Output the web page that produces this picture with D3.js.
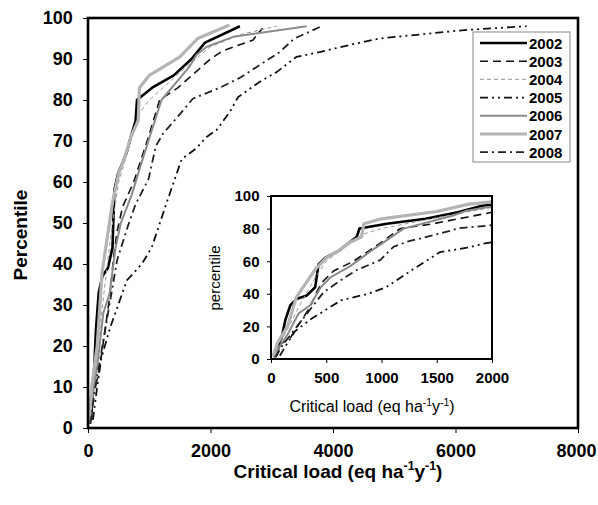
<!DOCTYPE html>
<html>
<head>
<meta charset="utf-8">
<script src="https://cdn.jsdelivr.net/npm/d3@7"></script>
<style>
    body { margin: 0; background: #fff; }
    svg text { font-family: "Liberation Sans", Arial, sans-serif; }
</style>
</head>
<body>
<div id="chart"></div>
<script>
    // critical load (eq/ha/y) vs percentile, one array of [load, percentile] per year
    const years = ["2002", "2003", "2004", "2005", "2006", "2007", "2008"];

    const s2002 = [[50, 2], [80, 10], [100, 14], [130, 24], [175, 33], [235, 37], [325, 39], [400, 44],
        [430, 58], [490, 62], [627, 67], [700, 71], [777, 75], [800, 80], [880, 81], [1048, 83],
        [1400, 86], [1690, 90], [1910, 94], [2480, 98]];
    const s2003 = [[30, 1], [60, 5], [84, 9], [175, 13], [260, 22], [355, 32], [420, 42], [476, 48],
        [566, 54], [747, 60], [900, 67], [988, 71], [1169, 80], [1470, 83], [1771, 87], [2000, 90],
        [2200, 92], [2690, 94.6], [2850, 97.5]];
    const s2004 = [[40, 2], [100, 12], [200, 25], [300, 38], [400, 50], [500, 60], [600, 65], [700, 70],
        [850, 77], [1000, 80], [1300, 84], [1600, 88], [2000, 93], [2500, 96], [3080, 98]];
    const s2005 = [[80, 2], [150, 10], [217, 17], [362, 24.5], [516, 31], [634, 36], [878, 40], [1040, 44],
        [1285, 55], [1530, 65.6], [1775, 68.3], [1937, 71], [2100, 72.7], [2310, 77], [2450, 80.7],
        [2800, 84.4], [3080, 86.8], [3400, 90.5], [3780, 91.7], [4350, 93.7], [4760, 95], [6100, 97],
        [7160, 98]];
    const s2006 = [[20, 1], [80, 8], [150, 15], [250, 28], [355, 33], [450, 44], [536, 50], [717, 57],
        [900, 66], [1200, 80], [1650, 88], [1770, 91], [1940, 93], [2370, 95.4], [3570, 98]];
    const s2007 = [[20, 2], [60, 10], [150, 20], [230, 38], [300, 45], [400, 55], [500, 62], [600, 66],
        [700, 71], [820, 75], [840, 83], [1000, 86], [1500, 90.5], [1790, 95], [2310, 98.3]];
    const s2008 = [[40, 1], [100, 8], [235, 20], [476, 41], [657, 49.5], [777, 54.6], [988, 60.7],
        [1108, 68.8], [1229, 71.9], [1470, 76], [1710, 80.3], [2150, 83], [2480, 85.4], [2800, 88.5],
        [3130, 91.7], [3370, 95], [3815, 98]];

    const mainXTicks = [0, 2000, 4000, 6000, 8000];
    const mainYTicks = d3.range(0, 101, 10);
    const insetXTicks = [0, 500, 1000, 1500, 2000];
    const insetYTicks = [0, 20, 40, 60, 80, 100];

    const seriesData = [s2002, s2003, s2004, s2005, s2006, s2007, s2008];

    // line look per year
    const styles = [
        { color: "#000", width: 2.6, dash: null },
        { color: "#111", width: 1.6, dash: "8,5" },
        { color: "#9a9a9a", width: 1, dash: "4,3" },
        { color: "#111", width: 1.8, dash: "8,4,2,4,2,4" },
        { color: "#8a8a8a", width: 2, dash: null },
        { color: "#b4b4b4", width: 3.2, dash: null },
        { color: "#222", width: 1.8, dash: "8,4,2,4" }
    ];

    const width = 598;
    const height = 505;
    const main = { left: 88, right: 578, top: 18, bottom: 428 };
    const inset = { left: 271, right: 492, top: 196, bottom: 359 };

    const svg = d3.select("#chart").append("svg")
        .attr("width", width)
        .attr("height", height);

    function addLabel(g, x, y, size, weight, rotate) {
        const t = g.append("text")
            .attr("text-anchor", "middle")
            .attr("font-size", size)
            .attr("font-weight", weight)
            .attr("transform", `translate(${x},${y})` + (rotate ? " rotate(-90)" : ""));
        return t;
    }

    function criticalLoadLabel(g, x, y, size, weight) {
        const t = addLabel(g, x, y, size, weight, false);
        t.append("tspan").text("Critical load (eq ha");
        t.append("tspan").attr("dy", -size * 0.4).attr("font-size", size * 0.65).text("-1");
        t.append("tspan").attr("dy", size * 0.4).text("y");
        t.append("tspan").attr("dy", -size * 0.4).attr("font-size", size * 0.65).text("-1");
        t.append("tspan").attr("dy", size * 0.4).text(")");
    }

    function drawPanel(box, xMax, xTicks, yTicks, opt) {
        const x = d3.scaleLinear().domain([0, xMax]).range([box.left, box.right]);
        const y = d3.scaleLinear().domain([0, 100]).range([box.bottom, box.top]);
        const g = svg.append("g");

        g.append("rect")
            .attr("x", box.left).attr("y", box.top)
            .attr("width", box.right - box.left).attr("height", box.bottom - box.top)
            .attr("fill", "#fff");

        const clipId = "clip" + opt.id;
        g.append("clipPath").attr("id", clipId)
            .append("rect")
            .attr("x", box.left).attr("y", box.top - 3)
            .attr("width", box.right - box.left).attr("height", box.bottom - box.top + 3);

        const line = d3.line().x(d => x(d[0])).y(d => y(d[1]));

        g.append("g")
            .attr("clip-path", `url(#${clipId})`)
            .selectAll("path")
            .data(seriesData)
            .join("path")
            .attr("d", line)
            .attr("fill", "none")
            .attr("stroke", (d, i) => styles[i].color)
            .attr("stroke-width", (d, i) => styles[i].width)
            .attr("stroke-dasharray", (d, i) => styles[i].dash)
            .attr("stroke-linejoin", "round");

        const xAxis = g.append("g")
            .attr("transform", `translate(0,${box.bottom})`)
            .call(d3.axisBottom(x).tickValues(xTicks).tickSize(opt.tick).tickFormat(d3.format("d")));
        const yAxis = g.append("g")
            .attr("transform", `translate(${box.left},0)`)
            .call(d3.axisLeft(y).tickValues(yTicks).tickSize(opt.tick).tickFormat(d3.format("d")));

        for (const a of [xAxis, yAxis]) {
            a.select(".domain").remove();
            a.selectAll("line").attr("stroke", "#000");
            a.selectAll("text")
                .attr("font-size", opt.font)
                .attr("font-weight", "bold")
                .attr("fill", "#000");
        }
        xAxis.selectAll("text").attr("dy", opt.xdy);
        yAxis.selectAll("text").attr("dx", opt.ydx);

        g.append("rect")
            .attr("x", box.left).attr("y", box.top)
            .attr("width", box.right - box.left).attr("height", box.bottom - box.top)
            .attr("fill", "none")
            .attr("stroke", "#000")
            .attr("stroke-width", opt.frame);

        return { g, xAxis };
    }

    const mainPanel = drawPanel(main, 8000, mainXTicks, mainYTicks,
        { id: "main", tick: 5, font: 18, xdy: "1.15em", ydx: "-0.4em", frame: 2.6 });
    const mainG = mainPanel.g;
    // last tick label sits against the page edge
    mainPanel.xAxis.selectAll(".tick text").filter(d => d === 8000).attr("dx", -2);

    addLabel(mainG, 27, 235, 19, "bold", true).text("Percentile");
    criticalLoadLabel(mainG, 338, 478, 19, "bold");

    // legend
    const legend = svg.append("g");
    legend.append("rect")
        .attr("x", 473).attr("y", 32)
        .attr("width", 97).attr("height", 130)
        .attr("fill", "#fff")
        .attr("stroke", "#888")
        .attr("stroke-width", 1);

    const item = legend.selectAll("g.item")
        .data(years)
        .join("g")
        .attr("class", "item")
        .attr("transform", (d, i) => `translate(480,${43 + i * 18.2})`);

    item.append("line")
        .attr("x1", 0).attr("x2", 47)
        .attr("stroke", (d, i) => styles[i].color)
        .attr("stroke-width", (d, i) => styles[i].width)
        .attr("stroke-dasharray", (d, i) => styles[i].dash);

    item.append("text")
        .attr("x", 49).attr("y", 5.5)
        .attr("font-size", 15)
        .attr("font-weight", "bold")
        .text(d => d);

    const insetG = drawPanel(inset, 2000, insetXTicks, insetYTicks,
        { id: "inset", tick: 4, font: 15, xdy: "1.1em", ydx: "-0.3em", frame: 2 }).g;

    addLabel(insetG, 220, 278, 15, "normal", true).text("percentile");
    criticalLoadLabel(insetG, 372, 412, 16, "normal");
</script>
</body>
</html>
